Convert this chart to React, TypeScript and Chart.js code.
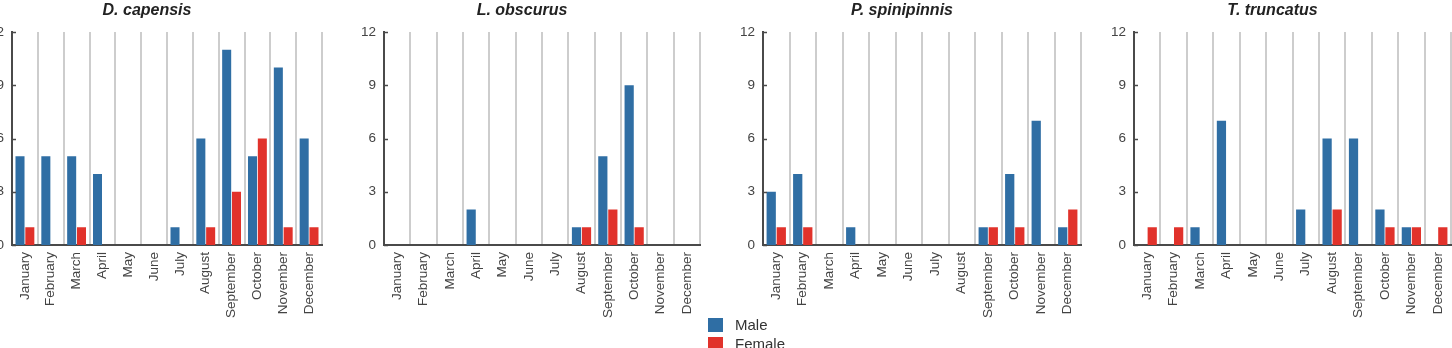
import React, { useEffect, useRef } from "react";
import { Chart, registerables } from "chart.js";

Chart.register(...registerables);

// Monthly strandings by sex for four species
const months = [
  "January", "February", "March", "April", "May", "June",
  "July", "August", "September", "October", "November", "December",
];

const capensisMale = [5, 5, 5, 4, 0, 0, 1, 6, 11, 5, 10, 6];
const capensisFemale = [1, 0, 1, 0, 0, 0, 0, 1, 3, 6, 1, 1];

const obscurusMale = [0, 0, 0, 2, 0, 0, 0, 1, 5, 9, 0, 0];
const obscurusFemale = [0, 0, 0, 0, 0, 0, 0, 1, 2, 1, 0, 0];

const spinipinnisMale = [3, 4, 0, 1, 0, 0, 0, 0, 1, 4, 7, 1];
const spinipinnisFemale = [1, 1, 0, 0, 0, 0, 0, 0, 1, 1, 0, 2];

const truncatusMale = [0, 0, 1, 7, 0, 0, 2, 6, 6, 2, 1, 0];
const truncatusFemale = [1, 1, 0, 0, 0, 0, 0, 2, 0, 1, 1, 1];

const yMin = 0;
const yMax = 12;
const yStep = 3;

const MALE_COLOR = "#2f6ea4";
const FEMALE_COLOR = "#e1322b";
const FONT = '"Liberation Sans", Arial, Helvetica, sans-serif';
const TEXT_COLOR = "#444444";
const AXIS_COLOR = "#4a4a4a";
const GRID_COLOR = "#cdcdcd";

const AXIS_W = 40;
const CANVAS_H = 348;
const X_AXIS_H = 103;

type PanelSpec = {
  title: string;
  male: number[];
  female: number[];
  axisX: number;
  plotW: number;
};

const panels: PanelSpec[] = [
  { title: "D. capensis", male: capensisMale, female: capensisFemale, axisX: 12, plotW: 310 },
  { title: "L. obscurus", male: obscurusMale, female: obscurusFemale, axisX: 384, plotW: 316 },
  { title: "P. spinipinnis", male: spinipinnisMale, female: spinipinnisFemale, axisX: 763, plotW: 318 },
  { title: "T. truncatus", male: truncatusMale, female: truncatusFemale, axisX: 1134, plotW: 317 },
];

const legendItems = [
  { label: "Male", color: MALE_COLOR },
  { label: "Female", color: FEMALE_COLOR },
];

// short inward tick marks on the value axis
const inwardTicks = {
  id: "inwardTicks",
  afterDraw(chart: any) {
    const y = chart.scales.y;
    const x0 = chart.chartArea.left;
    const ctx = chart.ctx;
    ctx.save();
    ctx.strokeStyle = AXIS_COLOR;
    ctx.lineWidth = 1.5;
    y.ticks.forEach((t: any) => {
      const py = Math.round(y.getPixelForValue(t.value)) + 0.5;
      ctx.beginPath();
      ctx.moveTo(x0, py);
      ctx.lineTo(x0 + 4, py);
      ctx.stroke();
    });
    ctx.restore();
  },
};

function Panel({ spec }: { spec: PanelSpec }) {
  const ref = useRef<HTMLCanvasElement>(null);
  const width = AXIS_W + spec.plotW + 2;

  useEffect(() => {
    const tickFont = { family: FONT, size: 13.5 };
    const chart = new Chart(ref.current as HTMLCanvasElement, {
      type: "bar",
      data: {
        labels: months,
        datasets: [
          {
            label: "Male",
            data: spec.male,
            backgroundColor: MALE_COLOR,
            borderWidth: 0,
            categoryPercentage: 0.76,
            barPercentage: 0.92,
          },
          {
            label: "Female",
            data: spec.female,
            backgroundColor: FEMALE_COLOR,
            borderWidth: 0,
            categoryPercentage: 0.76,
            barPercentage: 0.92,
          },
        ],
      },
      options: {
        responsive: false,
        animation: false,
        layout: { padding: { left: 0, right: 2, top: 0, bottom: 0 } },
        plugins: {
          legend: { display: false },
          tooltip: { enabled: false },
          title: {
            display: true,
            text: spec.title,
            color: "#222222",
            font: { family: FONT, size: 16, weight: "bold", style: "italic" },
            padding: { top: 1, bottom: 11.8 },
          },
        },
        scales: {
          x: {
            grid: {
              display: true,
              color: GRID_COLOR,
              lineWidth: 2,
              drawTicks: false,
              offset: true,
            },
            border: { display: true, color: AXIS_COLOR, width: 2 },
            ticks: {
              autoSkip: false,
              minRotation: 90,
              maxRotation: 90,
              padding: 7,
              color: TEXT_COLOR,
              font: tickFont,
            },
            afterFit: (s: any) => {
              s.height = X_AXIS_H;
              s.paddingLeft = 0;
              s.paddingRight = 0;
            },
          },
          y: {
            min: yMin,
            max: yMax,
            ticks: {
              stepSize: yStep,
              padding: 8,
              color: TEXT_COLOR,
              font: tickFont,
            },
            grid: { display: false, drawTicks: false },
            border: { display: true, color: AXIS_COLOR, width: 2 },
            afterFit: (s: any) => {
              s.width = AXIS_W;
            },
          },
        },
      } as any,
      plugins: [inwardTicks],
    });
    return () => chart.destroy();
  }, []);

  return (
    <canvas
      ref={ref}
      width={width}
      height={CANVAS_H}
      style={{
        position: "absolute",
        left: spec.axisX - AXIS_W,
        top: 0,
        width,
        height: CANVAS_H,
      }}
    />
  );
}

function Legend() {
  return (
    <>
      {legendItems.map((item, i) => (
        <React.Fragment key={item.label}>
          <div
            style={{
              position: "absolute",
              left: 708,
              top: 318 + i * 19,
              width: 15,
              height: 14,
              background: item.color,
            }}
          />
          <div
            style={{
              position: "absolute",
              left: 735,
              top: 316 + i * 19,
              height: 18,
              lineHeight: "18px",
              fontFamily: FONT,
              fontSize: 15,
              color: "#333333",
              whiteSpace: "nowrap",
            }}
          >
            {item.label}
          </div>
        </React.Fragment>
      ))}
    </>
  );
}

export default function App() {
  return (
    <div
      style={{
        position: "absolute",
        left: 0,
        top: 0,
        width: 1452,
        height: 348,
        overflow: "hidden",
        background: "#ffffff",
      }}
    >
      {panels.map((p) => (
        <Panel key={p.title} spec={p} />
      ))}
      <Legend />
    </div>
  );
}
